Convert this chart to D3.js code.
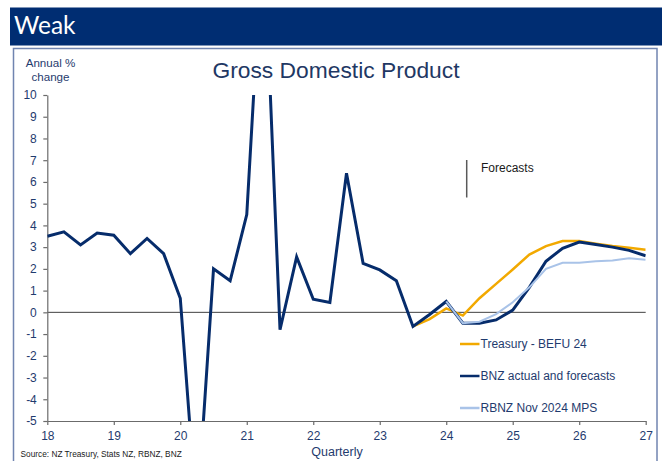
<!DOCTYPE html>
<html>
<head>
<meta charset="utf-8">
<script src="https://cdn.jsdelivr.net/npm/d3@7"></script>
<style>
  html, body { margin: 0; padding: 0; background: #ffffff; }
  svg { display: block; }
  text { font-family: "Liberation Sans", Arial, sans-serif; }
</style>
</head>
<body>
<svg id="chart" width="662" height="461"></svg>
<script>
// Quarter positions on the year axis (18 = 2018 Q1, 18.25 = Q2, ...)
const quarters = [
  18.00, 18.25, 18.50, 18.75, 19.00, 19.25, 19.50, 19.75,
  20.00, 20.25, 20.50, 20.75, 21.00, 21.25, 21.50, 21.75,
  22.00, 22.25, 22.50, 22.75, 23.00, 23.25, 23.50, 23.75,
  24.00, 24.25, 24.50, 24.75, 25.00, 25.25, 25.50, 25.75,
  26.00, 26.25, 26.50, 26.75, 27.00
];

// BNZ actual and forecasts, annual % change
const bnz = [
  3.50, 3.70, 3.10, 3.65, 3.55, 2.70, 3.40, 2.70,
  0.65, -9.50, 2.00, 1.45, 4.50, 17.80, -0.80, 2.55,
  0.60, 0.45, 6.40, 2.25, 1.95, 1.45, -0.65, -0.10,
  0.50, -0.50, -0.50, -0.35, 0.10, 1.15, 2.35, 2.95,
  3.23, 3.12, 3.00, 2.85, 2.60
];

// Treasury - BEFU 24 (from 2023 Q3)
const treasury = [
  null, null, null, null, null, null, null, null,
  null, null, null, null, null, null, null, null,
  null, null, null, null, null, null, -0.65, -0.31,
  0.18, -0.15, 0.65, 1.31, 1.97, 2.66, 3.05, 3.28,
  3.28, 3.16, 3.05, 2.97, 2.88
];

// RBNZ Nov 2024 MPS (from 2024 Q1)
const rbnz = [
  null, null, null, null, null, null, null, null,
  null, null, null, null, null, null, null, null,
  null, null, null, null, null, null, null, null,
  0.50, -0.50, -0.43, -0.08, 0.46, 1.15, 2.00, 2.28,
  2.28, 2.35, 2.38, 2.49, 2.42
];

const xTicks = [18, 19, 20, 21, 22, 23, 24, 25, 26, 27];
const yTicks = [-5, -4, -3, -2, -1, 0, 1, 2, 3, 4, 5, 6, 7, 8, 9, 10];

const seriesNames = ["Treasury - BEFU 24", "BNZ actual and forecasts", "RBNZ Nov 2024 MPS"];

const svg = d3.select("#chart");
const navy = "#002D72";
const textNavy = "#1F3B6E";

// Header band
svg.append("rect").attr("x", 10).attr("y", 7.5).attr("width", 652).attr("height", 38).attr("fill", navy);
svg.append("text").attr("x", 14).attr("y", 34).attr("fill", "#ffffff")
  .style("font-family", "Lato, 'Open Sans', sans-serif").style("font-size", "24.5px").text("Weak");

// Chart panel
svg.append("rect").attr("x", 13.5).attr("y", 48.5).attr("width", 643.5).attr("height", 430)
  .attr("fill", "#ffffff").attr("stroke", "#7084B0").attr("stroke-width", 1.5);

// Scales
const x = d3.scaleLinear().domain([18, 27]).range([47.3, 645.7]);
const y = d3.scaleLinear().domain([-5, 10]).range([421, 95]);

// Titles
svg.append("text").attr("x", 336).attr("y", 77.5).attr("text-anchor", "middle")
  .attr("fill", "#1F3864").style("font-size", "22.8px").text("Gross Domestic Product");
svg.append("text").attr("x", 50.5).attr("y", 66.5).attr("text-anchor", "middle")
  .attr("fill", textNavy).style("font-size", "11.6px").text("Annual %");
svg.append("text").attr("x", 50.5).attr("y", 80.5).attr("text-anchor", "middle")
  .attr("fill", textNavy).style("font-size", "11.6px").text("change");

// Zero line
svg.append("line").attr("x1", x(18)).attr("x2", x(27)).attr("y1", y(0)).attr("y2", y(0))
  .attr("stroke", "#404040").attr("stroke-width", 1);

// Axes
const yAxis = svg.append("g").attr("transform", `translate(${x(18)},0)`)
  .call(d3.axisLeft(y).tickValues(yTicks).tickFormat(d => String(d)).tickSize(4).tickSizeOuter(0).tickPadding(6.5));
const xAxis = svg.append("g").attr("transform", `translate(0,${y(-5)})`)
  .call(d3.axisBottom(x).tickValues(xTicks).tickFormat(d => String(d)).tickSize(4).tickSizeOuter(0).tickPadding(6));
[yAxis, xAxis].forEach(g => {
  g.selectAll("path, line").attr("stroke", "#6B6B6B").attr("stroke-width", 1.2);
  g.selectAll("text").attr("fill", textNavy).style("font-size", "12px")
    .style("font-family", "'Liberation Sans', Arial, sans-serif");
});

// Clip lines to the plot area
svg.append("clipPath").attr("id", "plot-clip").append("rect")
  .attr("x", x(18)).attr("y", y(10)).attr("width", x(27) - x(18)).attr("height", y(-5) - y(10));

const line = d3.line()
  .defined(d => d[1] !== null)
  .x(d => x(d[0]))
  .y(d => y(d[1]));

const plot = svg.append("g").attr("clip-path", "url(#plot-clip)");
const series = [
  { values: treasury, color: "#F2A900", width: 2.5 },
  { values: bnz, color: "#062C6B", width: 3 },
  { values: rbnz, color: "#A9C3E8", width: 2 }
];
series.forEach(s => {
  plot.append("path")
    .datum(quarters.map((q, i) => [q, s.values[i]]))
    .attr("d", line)
    .attr("fill", "none")
    .attr("stroke", s.color)
    .attr("stroke-width", s.width)
    .attr("stroke-linejoin", "miter");
});

// Forecasts marker
svg.append("line").attr("x1", 466.7).attr("x2", 466.7).attr("y1", 160).attr("y2", 197.5)
  .attr("stroke", "#595959").attr("stroke-width", 1.5);
svg.append("text").attr("x", 481).attr("y", 171.5).attr("fill", "#1a1a1a")
  .style("font-size", "12px").text("Forecasts");

// Legend
const legendColors = ["#F2A900", "#062C6B", "#A9C3E8"];
const legendY = [344, 376, 408];
seriesNames.forEach((name, i) => {
  svg.append("line").attr("x1", 460).attr("x2", 479.5).attr("y1", legendY[i]).attr("y2", legendY[i])
    .attr("stroke", legendColors[i]).attr("stroke-width", 2.5);
  svg.append("text").attr("x", 480.5).attr("y", legendY[i] + 4).attr("fill", textNavy)
    .style("font-size", "12px").text(name);
});

// Axis title and source
svg.append("text").attr("x", 337).attr("y", 455.5).attr("text-anchor", "middle")
  .attr("fill", textNavy).style("font-size", "12.5px").text("Quarterly");
svg.append("text").attr("x", 20.5).attr("y", 457).attr("fill", "#1a1a1a")
  .style("font-size", "8.3px").text("Source: NZ Treasury, Stats NZ, RBNZ,  BNZ");
</script>
</body>
</html>
